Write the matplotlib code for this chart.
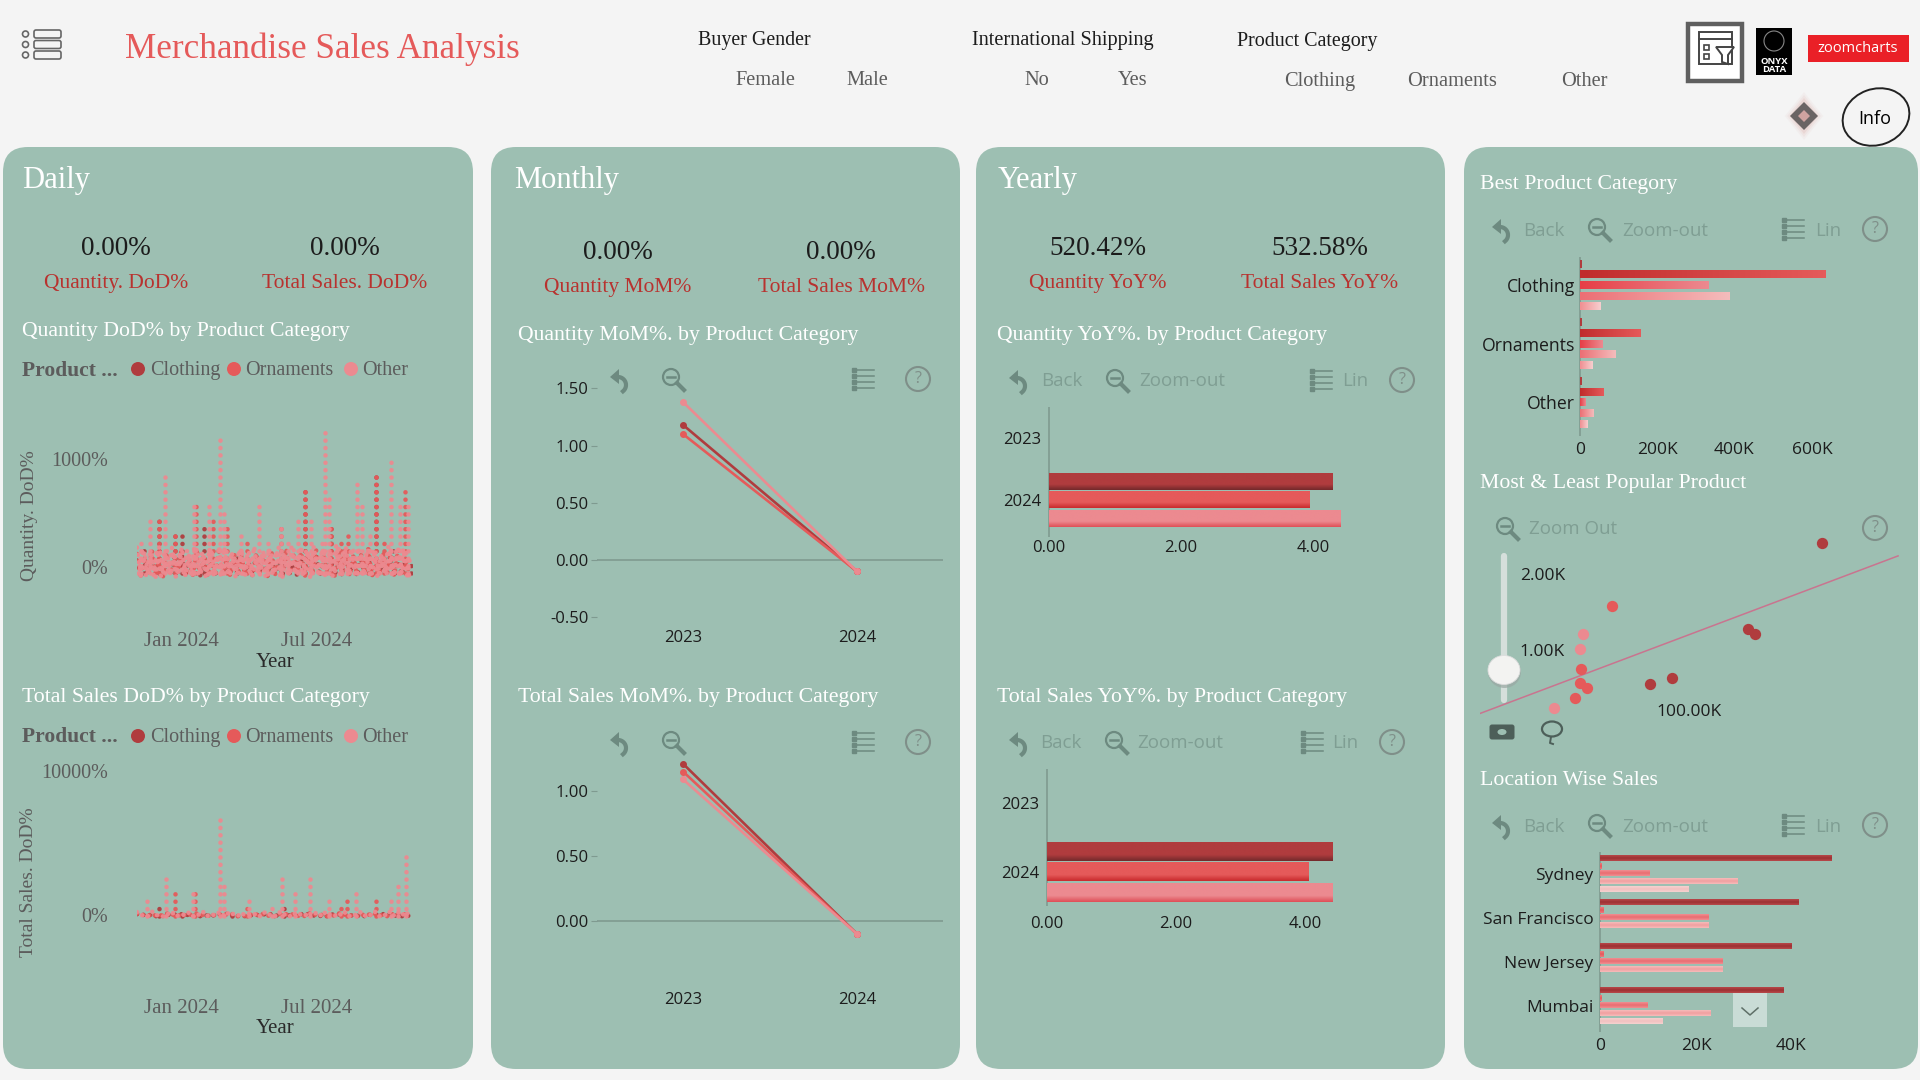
import matplotlib
matplotlib.use('Agg')  # no display here
import matplotlib.pyplot as plt
import matplotlib.dates as mdates
import numpy as np
import pandas as pd
from matplotlib.colors import LinearSegmentedColormap
from matplotlib.patches import Circle, Ellipse, FancyBboxPatch, Polygon, Rectangle

# Data
categories = ['Clothing', 'Ornaments', 'Other']
start_day = pd.Timestamp('2023-11-03')

# daily values, one every 5 days, then the tall spikes as (day, peak)
qty_clothing = [60, -70, 40, -80, 110, -60, 70, -85, 30, -75, 90, -50, 120, -80, 60, -70, 140, -85, 50, -60,
                80, -90, 150, -70, 40, -65, 90, -80, 60, -55, 35, -70, 100, -60, 50, -80, 70, -65, 45, -75,
                110, -60, 30, -85, 85, -70, 55, -65, 120, -85, 70, -60, 90, -75, 40, -80, 130, -65, 60, -90,
                75, -55, 100, -80, 35, -70, 90, -60, 120, -85, 50, -75, 80, -90]
qty_ornaments = [120, -80, 90, -60, 150, -85, 70, -90, 130, -70, 100, -55, 170, -85, 80, -75, 160, -60, 110, -90,
                 60, -80, 180, -70, 90, -85, 140, -65, 100, -75, 70, -85, 130, -60, 90, -90, 150, -70, 60, -80,
                 170, -75, 110, -55, 140, -90, 80, -65, 160, -85, 120, -60, 90, -80, 150, -70, 180, -85, 100, -75,
                 130, -60, 170, -90, 80, -70, 140, -65, 110, -85, 160, -60, 90, -80]
qty_other = [180, -85, 140, -70, 110, -90, 190, -60, 150, -80, 130, -75, 180, -85, 120, -90, 170, -65, 100, -80,
             160, -70, 190, -85, 140, -60, 110, -90, 170, -75, 130, -80, 90, -70, 150, -85, 120, -60, 180, -90,
             100, -75, 160, -80, 190, -65, 140, -85, 110, -90, 170, -70, 130, -60, 200, -85, 190, -75, 150, -90,
             120, -80, 180, -65, 140, -90, 110, -70, 170, -85, 190, -60, 160, -90]
# the days between, the band of this series is nearly solid in the picture
qty_other_between = [-60, 170, -80, 120, -75, 160, -85, 140, -65, 180, -90, 110, -70, 150, -80, 190, -60, 130, -85, 170,
                     -90, 100, -70, 180, -75, 140, -85, 160, -65, 120, -80, 190, -60, 110, -90, 170, -75, 150, -85, 130,
                     -70, 180, -65, 100, -80, 160, -90, 190, -60, 140, -75, 120, -85, 200, -70, 150, -80, 170, -65, 180,
                     -90, 130, -75, 160, -85, 110, -60, 190, -70, 140, -90, 170, -80, 120]
qty_clothing_spike_days = [9, 30, 51, 60, 90, 134, 225, 260, 321, 343, 367]
qty_clothing_spike_vals = [170, 430, 310, 325, 420, 150, 730, 400, 900, 170, 60]
qty_ornaments_spike_days = [30, 51, 79, 102, 120, 147, 193, 225, 260, 273, 283, 310, 321, 331, 359]
qty_ornaments_spike_vals = [430, 310, 620, 465, 385, 280, 400, 730, 400, 260, 325, 190, 900, 280, 710]
qty_other_spike_days = [5, 18, 38, 76, 97, 111, 116, 140, 164, 176, 193, 203, 216, 233, 248, 252, 258, 295, 302,
                        312, 341, 352, 363]
qty_other_spike_vals = [250, 480, 835, 600, 570, 1180, 510, 325, 570, 280, 390, 280, 430, 495, 280, 1285, 665,
                        805, 600, 310, 1005, 620, 590]

sales_clothing = [60, -90, 40, -85, 90, -95, 30, -80, 120, -90, 50, -85, 70, -95, 100, -80, 40, -90, 60, -85,
                  30, -95, 80, -90, 50, -85, 110, -80, 40, -95, 70, -90, 30, -85, 60, -80, 90, -95, 40, -85,
                  130, -90, 50, -95, 70, -80, 100, -85, 40, -90, 60, -95, 120, -85, 50, -80, 90, -90, 30, -95,
                  70, -85, 110, -90, 40, -80, 60, -95, 90, -85, 50, -90, 70, -95]
sales_ornaments = [100, -90, 60, -95, 150, -85, 40, -90, 120, -95, 80, -85, 170, -90, 60, -80, 110, -95, 70, -90,
                   140, -85, 50, -95, 90, -90, 160, -85, 60, -80, 100, -95, 40, -90, 130, -85, 70, -95, 150, -90,
                   60, -85, 110, -95, 80, -90, 180, -85, 50, -95, 120, -90, 70, -80, 160, -95, 90, -85, 60, -90,
                   140, -95, 50, -85, 110, -90, 80, -95, 170, -85, 60, -90, 120, -95]
sales_other = [200, -95, 120, -90, 260, -85, 90, -95, 180, -90, 240, -85, 110, -95, 220, -90, 150, -85, 280, -95,
               100, -90, 190, -85, 250, -95, 130, -90, 210, -85, 90, -95, 170, -90, 230, -85, 120, -95, 260, -90,
               140, -85, 200, -95, 100, -90, 240, -85, 160, -95, 280, -90, 120, -85, 190, -95, 250, -90, 110, -85,
               220, -95, 150, -90, 270, -85, 130, -95, 300, -90, 210, -85, 280, -95]
sales_clothing_spike_days = [30, 60, 128, 197]
sales_clothing_spike_vals = [580, 390, 300, 480]
sales_ornaments_spike_days = [51, 78, 148, 273, 282, 320]
sales_ornaments_spike_vals = [1620, 1500, 855, 855, 1040, 1155]
sales_other_spike_days = [13, 39, 75, 111, 116, 150, 181, 195, 212, 232, 257, 294, 340, 350, 361]
sales_other_spike_vals = [1385, 2890, 1960, 7040, 2310, 1040, 925, 2930, 1570, 2725, 1270, 1620, 1220, 2310, 4500]

years = ['2023', '2024']
qty_mom = {'Clothing': [1.18, -0.10], 'Ornaments': [1.10, -0.10], 'Other': [1.38, -0.10]}
sales_mom = {'Clothing': [1.21, -0.10], 'Ornaments': [1.15, -0.10], 'Other': [1.09, -0.10]}
qty_yoy = [4.29, 3.95, 4.41]
sales_yoy = [4.42, 4.06, 4.42]

best_labels = ['Clothing', 'Ornaments', 'Other']
best_values = [[5, 637, 334, 388, 53], [3, 156, 59, 92, 33], [3, 62, 14, 35, 19]]  # thousands

scatter_clothing_x = [191, 140, 145, 73, 88]
scatter_clothing_y = [2419, 1282, 1225, 564, 634]
scatter_ornaments_x = [47, 26, 25, 30, 22]
scatter_ornaments_y = [1590, 762, 568, 511, 370]
scatter_other_x = [27, 25, 7]
scatter_other_y = [1225, 1026, 238]
trend_x = [-43, 243]
trend_y = [172, 2251]

location_labels = ['Sydney', 'San Francisco', 'New Jersey', 'Mumbai']
location_values = [[48.2, 0.4, 10.3, 28.7, 18.5], [41.3, 0.8, 22.7, 22.7, 0], [40.0, 0.7, 25.6, 25.6, 0],
                   [38.2, 0.4, 9.9, 23.0, 13.1]]  # thousands

# Colours and fonts
BG = '#f4f4f4'
PANEL = '#9dbfb2'
COL = {'Clothing': '#b03c3e', 'Ornaments': '#e55a5a', 'Other': '#ec8a90'}
COL_DARK = {'Clothing': '#73292b', 'Ornaments': '#c92a2d', 'Other': '#df4f57'}
RED = '#b8322f'
SERIF = 'Liberation Serif'
SANS = 'Open Sans'
FAINT = '#7f9e93'
ICON = '#6d8a80'
GREY = '#5c5c5c'
DOTS = (0, (0.01, 1.6))
DOT_LW = 3.3

W, H = 1920, 1080
fig = plt.figure(figsize=(W / 100, H / 100), dpi=100, facecolor=BG)

ov = fig.add_axes([0, 0, 1, 1], zorder=0)
ov.set_xlim(0, W)
ov.set_ylim(H, 0)
ov.axis('off')
top = fig.add_axes([0, 0, 1, 1], zorder=10)
top.set_xlim(0, W)
top.set_ylim(H, 0)
top.axis('off')
top.patch.set_alpha(0)


def txt(x, y, s, size=13.5, color='black', family=SERIF, ha='left', **kw):
    # the fonts sit a little high against the reference
    y = y + (2.5 if family == SERIF else 1.5)
    return ov.text(x, y, s, fontsize=size, color=color, family=family, ha=ha, va='center', **kw)


def px_axes(x0, x1, y0, y1, xmap, ymap):
    # axes placed in picture pixels; xmap and ymap hold (value, pixel) pairs
    ax = fig.add_axes([x0 / W, 1 - y1 / H, (x1 - x0) / W, (y1 - y0) / H], zorder=5)
    ax.patch.set_alpha(0)
    for s in ax.spines.values():
        s.set_visible(False)
    (v1, p1), (v2, p2) = xmap
    k = (v2 - v1) / (p2 - p1)
    ax.set_xlim(v1 + (x0 - p1) * k, v1 + (x1 - p1) * k)
    (v1, p1), (v2, p2) = ymap
    k = (v2 - v1) / (p2 - p1)
    ax.set_ylim(v1 + (y1 - p1) * k, v1 + (y0 - p1) * k)
    return ax


def grad_bar(ax, pos, length, height, c0, c1, horizontal=True, stops=None):
    # one bar painted with a colour ramp, through the axes data scale
    xl, yl = ax.get_xlim(), ax.get_ylim()
    cmap = LinearSegmentedColormap.from_list('b', stops or [c0, c1])
    ramp = np.linspace(0, 1, 64).reshape(1, -1) if horizontal else np.linspace(0, 1, 64).reshape(-1, 1)
    ax.imshow(ramp, cmap=cmap, aspect='auto', extent=[0, length, pos + height / 2, pos - height / 2],
              interpolation='bilinear', zorder=3)
    ax.set_xlim(xl)
    ax.set_ylim(yl)


def back_icon(x, y):
    ov.add_patch(Polygon([[x - 10, y - 2], [x - 1, y - 10], [x - 1, y + 5]], color=ICON, lw=0))
    t = np.linspace(-1.5, 0.9, 20)
    ov.plot(x - 2 + 8 * np.cos(t), y + 6 + 8 * np.sin(t), color=ICON, lw=3)


def zoom_icon(x, y):
    ov.add_patch(Circle((x - 2, y - 2), 8, fill=False, ec=ICON, lw=1.6))
    ov.plot([x - 6, x + 2], [y - 2, y - 2], color=ICON, lw=1.8)
    ov.plot([x + 4, x + 11], [y + 4, y + 11], color=ICON, lw=3)


def list_icon(x, y):
    for dy in (-9, -3, 3, 9):
        ov.plot([x - 7, x + 10], [y + dy, y + dy], color=ICON, lw=1.1)
        ov.plot([x - 10], [y + dy], 's', ms=2.2, color=ICON)


def help_icon(x, y):
    ov.add_patch(Circle((x, y), 12, fill=False, ec='#7f8f89', lw=1.5))
    txt(x, y - 1.5, '?', 11.5, '#7f8f89', SANS, 'center')


def toolbar(y, back, zoom, lst, hlp, back_lab=None, zoom_lab=None, lin_lab=None):
    back_icon(back, y)
    zoom_icon(zoom, y)
    list_icon(lst, y)
    help_icon(hlp, y)
    if back_lab:
        txt(back_lab, y, 'Back', 13.5, FAINT, SANS)
        txt(zoom_lab, y, 'Zoom-out', 13.5, FAINT, SANS)
        txt(lin_lab, y, 'Lin', 13.5, FAINT, SANS)


def legend_row(y):
    txt(22, y, 'Product ...', 15.5, GREY, weight='bold')
    for cat, dx, tx in zip(categories, [138, 234, 351], [150, 245, 362]):
        ov.add_patch(Circle((dx, y + 1), 7, color=COL[cat], lw=0))
        txt(tx, y, cat, 14.5, GREY)


def dotted_daily(ax, base, spike_days, spike_vals, color, low, between=None):
    dates = start_day + pd.to_timedelta(np.arange(len(base)) * 5, unit='D')
    ax.plot(dates, base, color=color, lw=DOT_LW, ls=DOTS, dash_capstyle='round', alpha=0.95)
    if between is not None:
        ax.plot(dates + pd.Timedelta(days=2), between, color=color, lw=DOT_LW, ls=DOTS, dash_capstyle='round',
                alpha=0.95)
    for d, v in zip(spike_days, spike_vals):
        day = start_day + pd.Timedelta(days=d)
        ax.plot([day, day], [low, v], color=color, lw=DOT_LW, ls=DOTS, dash_capstyle='round', alpha=0.95)


def daily_chart(x0, x1, y0, y1, zero_px, top_val, top_px, series, label_pad):
    day0 = mdates.date2num(start_day)
    ax = px_axes(x0, x1, y0, y1, [(day0, 137), (day0 + 370, 413)], [(0, zero_px), (top_val, top_px)])
    for base, sd, sv, cat, between in series:
        dotted_daily(ax, base, sd, sv, COL[cat], -60, between)
    ax.set_xticks([pd.Timestamp('2024-01-01'), pd.Timestamp('2024-07-01')])
    ax.set_xticklabels(['Jan 2024', 'Jul 2024'], family=SERIF, fontsize=15, color=GREY)
    ax.set_yticks([0, top_val])
    ax.set_yticklabels(['0%', f'{top_val}%'], family=SERIF, fontsize=14.5, color=GREY)
    ax.tick_params(axis='x', length=0, pad=label_pad)
    ax.tick_params(axis='y', length=0, pad=21)
    return ax


def mom_chart(values, y0, y1, ticks, zero_px, unit_px, label_y):
    ax = px_axes(597, 943, y0, y1, [(0, 683), (1, 857)], [(0, zero_px), (1, zero_px - unit_px)])
    ax.axhline(0, color='#7f9a90', lw=1.2, zorder=1)
    for cat in categories:
        ax.plot([0, 1], values[cat], color=COL[cat], lw=1.9, marker='o', ms=4, zorder=3)
    ax.set_yticks(ticks)
    ax.set_yticklabels([f'{t:.2f}' for t in ticks], family=SANS, fontsize=12, color='#1c1c1c')
    ax.tick_params(axis='y', length=4, width=0.8, color='#7f9a90', pad=2)
    ax.set_xticks([])
    for i, yr in enumerate(years):
        txt(683 + i * 174, label_y, yr, 12, '#1c1c1c', SANS, 'center')
    return ax


def yoy_chart(values, xmap, y0, y1, cat_y, step, bar_h, label_y):
    ax = px_axes(xmap[0][1] - 1, 1440, y0, y1, xmap, [(0, cat_y), (1, cat_y + step)])
    off = bar_h * 1.1 / step
    for i, (cat, v) in enumerate(zip(categories, values)):
        grad_bar(ax, 1 + (i - 1) * off, v, bar_h / step, None, None, horizontal=False,
                 stops=[COL[cat], COL[cat], COL[cat], COL_DARK[cat]])
    ax.axvline(0, color='#7f9a90', lw=1.2, zorder=1)
    ax.set_yticks([0, 1])
    ax.set_yticklabels(years, family=SANS, fontsize=12, color='#1c1c1c')
    ax.tick_params(axis='y', length=0, pad=5)
    ax.set_xticks([])
    for t in (0, 2, 4):
        xp = xmap[0][1] + t * (xmap[1][1] - xmap[0][1]) / (xmap[1][0] - xmap[0][0])
        txt(xp, label_y, f'{t:.2f}', 12, '#1c1c1c', SANS, 'center')
    return ax


# Panels
for x0, x1 in [(3, 473), (491, 960), (976, 1445), (1464, 1918)]:
    ov.add_patch(FancyBboxPatch((x0 + 25, 147 + 25), x1 - x0 - 50, 922 - 50,
                                boxstyle='round,pad=25,rounding_size=25', fc=PANEL, ec='none'))

# Header
for yy in (34, 44.5, 55):
    ov.add_patch(Circle((25.5, yy), 3, fill=False, ec='#666666', lw=1.2))
    ov.add_patch(FancyBboxPatch((36, yy - 2), 23, 4, boxstyle='round,pad=2', fc='none', ec='#666666', lw=1.2))
txt(125, 47, 'Merchandise Sales Analysis', 25.3, '#e55a5a')
txt(698, 38, 'Buyer Gender', 14.4, '#1c1c1c')
txt(765, 78, 'Female', 14.7, GREY, ha='center')
txt(867, 78, 'Male', 14.7, GREY, ha='center')
txt(972, 38, 'International Shipping', 14.6, '#1c1c1c')
txt(1037, 78, 'No', 14.7, GREY, ha='center')
txt(1133, 78, 'Yes', 14.7, GREY, ha='center')
txt(1237, 39, 'Product Category', 14.4, '#1c1c1c')
txt(1320, 79, 'Clothing', 14.7, GREY, ha='center')
txt(1452, 79, 'Ornaments', 14.7, GREY, ha='center')
txt(1584, 79, 'Other', 14.7, GREY, ha='center')

ov.add_patch(Rectangle((1688, 24), 54, 57, fc='white', ec='#5f5f5f', lw=3.2))
ov.add_patch(Rectangle((1699, 32), 33, 32, fill=False, ec='#444444', lw=1.4))
ov.plot([1699, 1732], [39, 39], color='#444444', lw=1.4)
ov.add_patch(Rectangle((1704, 45), 5, 5, fill=False, ec='#444444', lw=1.2))
ov.add_patch(Rectangle((1704, 54), 5, 5, fill=False, ec='#444444', lw=1.2))
ov.add_patch(Polygon([[1716, 47], [1734, 47], [1728, 55], [1728, 64], [1722, 62], [1722, 55]],
                     fc='white', ec='#444444', lw=1.4))
ov.add_patch(Rectangle((1756, 28), 36, 47, fc='black', ec='none'))
ov.add_patch(Circle((1774, 41), 10, fill=False, ec='#888888', lw=0.8))
txt(1774, 64, 'ONYX\nDATA', 6.8, 'white', SANS, 'center', weight='bold', linespacing=0.95)
ov.add_patch(Rectangle((1808, 35), 101, 27, fc='#ea2027', ec='none'))
txt(1858, 47, 'zoomcharts', 10.5, 'white', SANS, 'center')
for r, a in [(24, 0.08), (21, 0.12), (18, 0.2)]:
    ov.add_patch(Polygon([[1804, 116 - r], [1804 + r * 0.8, 116], [1804, 116 + r], [1804 - r * 0.8, 116]],
                         fc='#d9a5a0', ec='none', alpha=a))
ov.add_patch(Polygon([[1804, 102], [1818, 116], [1804, 130], [1790, 116]], fc='#6a6464', ec='none'))
ov.add_patch(Polygon([[1804, 110], [1810, 116], [1804, 122], [1798, 116]], fc='#cfa3a0', ec='none'))
ov.add_patch(Ellipse((1876, 117), 68, 56, angle=-20, fill=False, ec='#222222', lw=1.4))
txt(1875, 117, 'Info', 13, 'black', SANS, 'center')

# Panel headings and KPIs
txt(22, 178, 'Daily', 22, 'white')
txt(514, 178, 'Monthly', 22, 'white')
txt(998, 178, 'Yearly', 22, 'white')
txt(116, 246, '0.00%', 19.5, '#1c1c1c', ha='center')
txt(345, 246, '0.00%', 19.5, '#1c1c1c', ha='center')
txt(116, 281, 'Quantity. DoD%', 15.5, RED, ha='center')
txt(345, 281, 'Total Sales. DoD%', 15.5, RED, ha='center')
txt(618, 250, '0.00%', 19.5, '#1c1c1c', ha='center')
txt(841, 250, '0.00%', 19.5, '#1c1c1c', ha='center')
txt(618, 285, 'Quantity MoM%', 15.5, RED, ha='center')
txt(841, 285, 'Total Sales MoM%', 15.5, RED, ha='center')
txt(1098, 246, '520.42%', 19.5, '#1c1c1c', ha='center')
txt(1320, 246, '532.58%', 19.5, '#1c1c1c', ha='center')
txt(1098, 281, 'Quantity YoY%', 15.5, RED, ha='center')
txt(1320, 281, 'Total Sales YoY%', 15.5, RED, ha='center')

for x, y, s in [(22, 329, 'Quantity DoD% by Product Category'), (22, 695, 'Total Sales DoD% by Product Category'),
                (518, 333, 'Quantity MoM%. by Product Category'), (518, 695, 'Total Sales MoM%. by Product Category'),
                (997, 333, 'Quantity YoY%. by Product Category'), (997, 695, 'Total Sales YoY%. by Product Category'),
                (1480, 182, 'Best Product Category'), (1480, 481, 'Most & Least Popular Product'),
                (1480, 778, 'Location Wise Sales')]:
    txt(x, y, s, 15.7, 'white')

# Daily
legend_row(368)
legend_row(735)
daily_chart(137, 413, 420, 622, 567, 1000, 459,
            [(qty_clothing, qty_clothing_spike_days, qty_clothing_spike_vals, 'Clothing', None),
             (qty_ornaments, qty_ornaments_spike_days, qty_ornaments_spike_vals, 'Ornaments', None),
             (qty_other, qty_other_spike_days, qty_other_spike_vals, 'Other', qty_other_between)], 7)
daily_chart(137, 413, 765, 975, 915, 10000, 771,
            [(sales_clothing, sales_clothing_spike_days, sales_clothing_spike_vals, 'Clothing', None),
             (sales_ornaments, sales_ornaments_spike_days, sales_ornaments_spike_vals, 'Ornaments', None),
             (sales_other, sales_other_spike_days, sales_other_spike_vals, 'Other', None)], 17)
txt(29, 513, 'Quantity. DoD%', 14, GREY, ha='center', rotation=90)
txt(29, 880, 'Total Sales. DoD%', 14, GREY, ha='center', rotation=90)
txt(275, 660, 'Year', 15, '#2a2a2a', ha='center')
txt(275, 1026, 'Year', 15, '#2a2a2a', ha='center')

# Monthly
toolbar(379, 620, 673, 864, 918)
toolbar(742, 620, 673, 864, 918)
mom_chart(qty_mom, 372, 625, [-0.5, 0, 0.5, 1, 1.5], 560, 114.5, 637)
mom_chart(sales_mom, 760, 960, [0, 0.5, 1], 921, 130, 999)

# Yearly
toolbar(380, 1019, 1117, 1322, 1402, 1041, 1139, 1342)
toolbar(742, 1019, 1116, 1313, 1392, 1040, 1137, 1332)
yoy_chart(qty_yoy, [(0, 1049), (2, 1181)], 407, 537, 438, 62, 17, 547)
yoy_chart(sales_yoy, [(0, 1047), (2, 1176)], 769, 906, 803, 69, 19, 923)

# Best product category
toolbar(229, 1502, 1599, 1794, 1875, 1523, 1622, 1815)
ax = px_axes(1579, 1905, 257, 436, [(0, 1580), (200, 1657)], [(0, 285), (1, 343.7)])
best_ramps = [('#b03c3e', '#b03c3e'), ('#c02c2c', '#e55a5a'), ('#e63e46', '#ec8a90'), ('#ec6f74', '#f4bcbc'),
              ('#f08f92', '#f7cfcf')]
for i, row in enumerate(best_values):
    for j, v in enumerate(row):
        grad_bar(ax, i + (j - 2) * 10.7 / 58.7, v, 8 / 58.7, best_ramps[j][0], best_ramps[j][1])
ax.axvline(0, color='#7f9a90', lw=1.2, zorder=1)
ax.set_yticks(range(len(best_labels)))
ax.set_yticklabels(best_labels, family=SANS, fontsize=12.7, color='#1c1c1c')
ax.tick_params(axis='y', length=0, pad=3)
ax.set_xticks([])
for xp, lab in zip([1580, 1657, 1734, 1812], ['0', '200K', '400K', '600K']):
    txt(xp, 449, lab, 12.5, '#1c1c1c', SANS, 'center')

# Scatter
ov.plot([1504, 1504], [556, 700], color='#d5dfdb', lw=4.5, solid_capstyle='round')
top.add_patch(Ellipse((1504.5, 672), 33, 32, fc='#9aa8a3', ec='none', alpha=0.7))
top.add_patch(Ellipse((1504, 670), 32, 29, fc='#f3f3f1', ec='#dddddd', lw=0.6))
zoom_icon(1507, 528)
txt(1529, 528, 'Zoom Out', 13.5, FAINT, SANS)
help_icon(1875, 528)
ov.add_patch(FancyBboxPatch((1492, 727), 20, 10, boxstyle='round,pad=2.5', fc='#4d5f59', ec='none'))
ov.add_patch(Ellipse((1502, 732), 9, 6, fc=PANEL, ec='none'))
ov.add_patch(Ellipse((1552, 729), 20, 15, fill=False, ec='#4d5f59', lw=1.6))
ov.plot([1551, 1550, 1553], [737, 743, 744], color='#4d5f59', lw=1.4)
ax = px_axes(1480, 1899, 530, 725, [(0, 1543.3), (100, 1689.3)], [(0, 726.3), (1000, 650.6)])
ax.plot(trend_x, trend_y, color='#c9748f', lw=1.1, zorder=2)
ax.scatter(scatter_clothing_x, scatter_clothing_y, s=66, color=COL['Clothing'], lw=0, zorder=3)
ax.scatter(scatter_ornaments_x, scatter_ornaments_y, s=66, color=COL['Ornaments'], lw=0, zorder=3)
ax.scatter(scatter_other_x, scatter_other_y, s=66, color=COL['Other'], lw=0, zorder=3)
ax.set_xticks([])
ax.set_yticks([])
txt(1565, 574, '2.00K', 12.5, '#1c1c1c', SANS, 'right')
txt(1565, 650, '1.00K', 12.5, '#1c1c1c', SANS, 'right')
txt(1689, 710, '100.00K', 12.5, '#1c1c1c', SANS, 'center')

# Location wise sales
toolbar(825, 1502, 1599, 1794, 1875, 1523, 1622, 1815)
ax = px_axes(1599, 1905, 852, 1032, [(0, 1600), (20, 1696)], [(0, 873.7), (1, 917.7)])
loc_ramps = [['#b8484a', '#9c3032', '#b8484a'], ['#ec7a7e', '#e55a5a', '#ec7a7e'], ['#f08f92', '#e96c70', '#f08f92'],
             ['#f6bcbb', '#f09f9f', '#f6bcbb'], ['#f5d2d0', '#f2c0bf', '#f5d2d0']]
for i, row in enumerate(location_values):
    for j, v in enumerate(row):
        if v > 0:
            grad_bar(ax, i + (j - 2) * 7.8 / 44, v, 5.5 / 44, None, None, horizontal=False, stops=loc_ramps[j])
ax.axvline(0, color='#7f9a90', lw=1.2, zorder=1)
ax.set_yticks(range(len(location_labels)))
ax.set_yticklabels(location_labels, family=SANS, fontsize=12.5, color='#1c1c1c')
ax.tick_params(axis='y', length=0, pad=4)
ax.set_xticks([])
for xp, lab in zip([1600, 1696, 1791], ['0', '20K', '40K']):
    txt(xp, 1045, lab, 12.5, '#1c1c1c', SANS, 'center')
top.add_patch(Rectangle((1733, 993), 34, 34, fc='#c9dcd6', ec='none'))
top.plot([1742, 1750, 1758], [1008, 1015, 1008], color='#5f7068', lw=1.1)

plt.savefig('out.png', dpi=100, facecolor=BG)
plt.close()
